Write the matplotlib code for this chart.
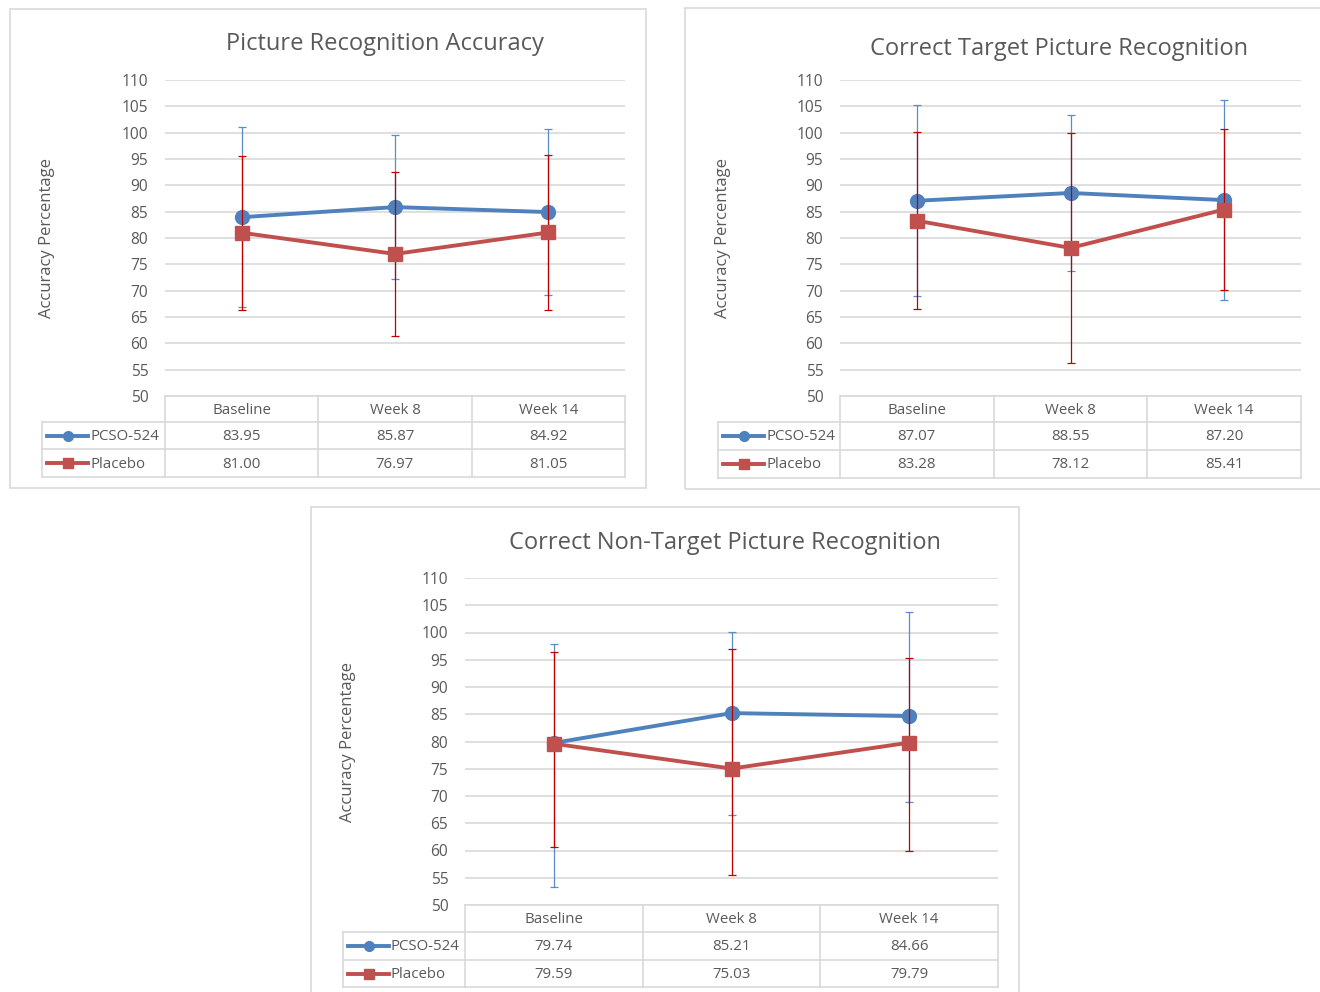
import matplotlib
matplotlib.use("Agg")
import matplotlib.pyplot as plt
from matplotlib.patches import Rectangle
from matplotlib.lines import Line2D

plt.rcParams['font.family'] = ['Open Sans', 'DejaVu Sans']

W, H = 1320, 992

categories = ["Baseline", "Week 8", "Week 14"]
series_names = ["PCSO-524", "Placebo"]
titles = ["Picture Recognition Accuracy",
          "Correct Target Picture Recognition",
          "Correct Non-Target Picture Recognition"]
y_label = "Accuracy Percentage"
y_ticks = list(range(50, 111, 5))

# Panel 1
p1_pcso = [83.95, 85.87, 84.92]
p1_placebo = [81.00, 76.97, 81.05]
p1_pcso_err_lo = [17.1, 13.6, 15.7]
p1_pcso_err_hi = [17.1, 13.6, 15.7]
p1_placebo_err_lo = [14.65, 15.58, 14.7]
p1_placebo_err_hi = [14.65, 15.58, 14.7]

# Panel 2
p2_pcso = [87.07, 88.55, 87.20]
p2_placebo = [83.28, 78.12, 85.41]
p2_pcso_err_lo = [18.1, 14.83, 19.0]
p2_pcso_err_hi = [18.1, 14.83, 19.0]
p2_placebo_err_lo = [16.76, 21.88, 15.35]
p2_placebo_err_hi = [16.76, 21.88, 15.35]

# Panel 3
p3_pcso = [79.74, 85.21, 84.66]
p3_placebo = [79.59, 75.03, 79.79]
p3_pcso_err_lo = [26.5, 18.64, 15.82]
p3_pcso_err_hi = [18.1, 14.85, 19.08]
p3_placebo_err_lo = [19.03, 19.5, 19.8]
p3_placebo_err_hi = [16.85, 21.9, 15.6]

BLUE = "#4F81BD"
RED = "#C0504D"
BLUE_ERR = "#5B8CC8"
RED_ERR = "#C00000"
GRID = "#D9D9D9"
TXT = "#595959"
BORDER = "#D9D9D9"

fig = plt.figure(figsize=(W / 100, H / 100), dpi=100)


def rect(x0, y0, x1, y1):
    return [x0 / W, 1 - y1 / H, (x1 - x0) / W, (y1 - y0) / H]


def fx(x):
    return x / W


def fy(y):
    return 1 - y / H


def panel(box, plot, table_left, rows, title_xy, ylab_xy,
          pcso, placebo, pe_lo, pe_hi, qe_lo, qe_hi, title):
    # chart border
    bx0, by0, bx1, by1 = box
    fig.patches.append(Rectangle((fx(bx0), fy(by1)), (bx1 - bx0) / W, (by1 - by0) / H,
                                 transform=fig.transFigure, fill=False,
                                 edgecolor=BORDER, linewidth=1.2, zorder=0))
    fig.text(fx(title_xy[0]), fy(title_xy[1]), title, ha='center', va='center',
             fontsize=17, color=TXT)
    fig.text(fx(ylab_xy[0]), fy(ylab_xy[1]), y_label, ha='center', va='center',
             rotation=90, fontsize=12, color=TXT)

    px0, py0, px1, py1 = plot
    ax = fig.add_axes(rect(px0, py0, px1, py1))
    x = list(range(len(categories)))
    ax.set_xlim(-0.5, len(categories) - 0.5)
    ax.set_ylim(50, 110)
    ax.set_yticks(y_ticks)
    ax.set_xticks([])
    ax.tick_params(axis='y', length=0, pad=12, labelsize=11.2, labelcolor=TXT)
    for s in ax.spines.values():
        s.set_visible(False)
    ax.grid(axis='y', color=GRID, linewidth=1.2)
    ax.set_axisbelow(True)

    ax.errorbar(x, pcso, yerr=[pe_lo, pe_hi], fmt='none', ecolor=BLUE_ERR,
                elinewidth=0.9, capsize=3, capthick=0.9, zorder=2)
    ax.plot(x, pcso, color=BLUE, linewidth=2.8, marker='o', markersize=10,
            zorder=3)
    ax.errorbar(x, placebo, yerr=[qe_lo, qe_hi], fmt='none', ecolor=RED_ERR,
                elinewidth=0.9, capsize=3, capthick=0.9, zorder=4)
    ax.plot(x, placebo, color=RED, linewidth=2.8, marker='s', markersize=9.5,
            zorder=5)

    # data table
    r0, r1, r2, r3 = rows
    col_w = (px1 - px0) / len(categories)
    lc = "#D9D9D9"
    lw = 1.2

    def hline(y, xa, xb):
        fig.lines.append(Line2D([fx(xa), fx(xb)], [fy(y), fy(y)],
                                transform=fig.transFigure, color=lc, linewidth=lw))

    def vline(xv, ya, yb):
        fig.lines.append(Line2D([fx(xv), fx(xv)], [fy(ya), fy(yb)],
                                transform=fig.transFigure, color=lc, linewidth=lw))

    hline(r0, px0, px1)
    hline(r1, table_left, px1)
    hline(r2, table_left, px1)
    hline(r3, table_left, px1)
    vline(table_left, r1, r3)
    for i in range(len(categories) + 1):
        vline(px0 + i * col_w, r0, r3)

    fs = 10.8
    for i, c in enumerate(categories):
        cx = px0 + (i + 0.5) * col_w
        fig.text(fx(cx), fy((r0 + r1) / 2 + 1), c, ha='center', va='center',
                 fontsize=fs, color=TXT)
        fig.text(fx(cx), fy((r1 + r2) / 2 + 1), f"{pcso[i]:.2f}", ha='center',
                 va='center', fontsize=fs, color=TXT)
        fig.text(fx(cx), fy((r2 + r3) / 2 + 1), f"{placebo[i]:.2f}", ha='center',
                 va='center', fontsize=fs, color=TXT)

    for (yy0, yy1), name, col, mk, ms in [((r1, r2), series_names[0], BLUE, 'o', 7),
                                          ((r2, r3), series_names[1], RED, 's', 6.5)]:
        yc = fy((yy0 + yy1) / 2)
        fig.lines.append(Line2D([fx(table_left + 5), fx(table_left + 46)], [yc, yc],
                                transform=fig.transFigure, color=col, linewidth=2.8))
        fig.lines.append(Line2D([fx(table_left + 25.5)], [yc], transform=fig.transFigure,
                                color=col, marker=mk, markersize=ms, linestyle='none'))
        fig.text(fx(table_left + 48), fy((yy0 + yy1) / 2 + 1), name, ha='left',
                 va='center', fontsize=fs, color=TXT)
    return ax


panel((10, 9, 646, 488), (165, 80, 625, 396), 42, (396, 422, 449, 477),
      (385, 44), (47, 238), p1_pcso, p1_placebo,
      p1_pcso_err_lo, p1_pcso_err_hi, p1_placebo_err_lo, p1_placebo_err_hi, titles[0])
panel((685, 8, 1330, 489), (840, 80, 1301, 396), 718, (396, 422, 450, 478),
      (1059, 49), (723, 238), p2_pcso, p2_placebo,
      p2_pcso_err_lo, p2_pcso_err_hi, p2_placebo_err_lo, p2_placebo_err_hi, titles[1])
panel((311, 507, 1019, 1005), (465, 578, 998, 905), 343, (905, 932, 960, 987),
      (725, 543), (348, 742), p3_pcso, p3_placebo,
      p3_pcso_err_lo, p3_pcso_err_hi, p3_placebo_err_lo, p3_placebo_err_hi, titles[2])

fig.savefig("out.png", dpi=100, facecolor="white")
